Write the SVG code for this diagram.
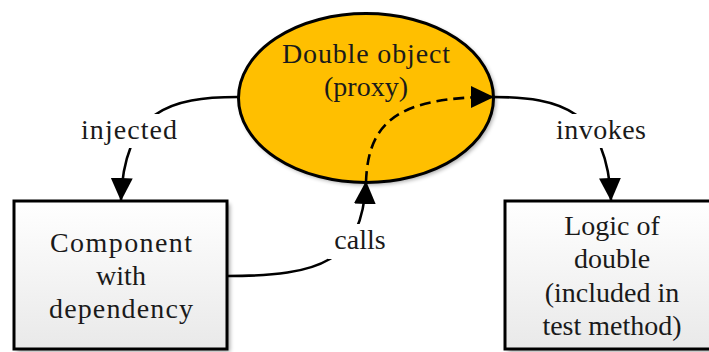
<svg xmlns="http://www.w3.org/2000/svg" width="709" height="352" viewBox="0 0 709 352" font-family="Liberation Serif, Times New Roman, serif">
  <style>
    text { font-size: 28px; fill: #1a1a1a; text-anchor: middle; }
    .box { fill: url(#boxFill); stroke: #000; stroke-width: 3; }
    .shadow { fill: #000; opacity: 0.35; filter: url(#soft); }
    .edge { fill: none; stroke: #000; stroke-width: 2.6; }
    .dashed { stroke-dasharray: 11 6; }
    .lbl-bg { fill: #fff; }
  </style>
  <defs>
    <linearGradient id="boxFill" x1="0" y1="0" x2="0" y2="1">
      <stop offset="0" stop-color="#ffffff"/>
      <stop offset="1" stop-color="#e9e9e9"/>
    </linearGradient>
    <filter id="soft" x="-10%" y="-10%" width="120%" height="120%">
      <feGaussianBlur stdDeviation="2"/>
    </filter>
    <marker id="head" viewBox="0 0 23 22" refX="22" refY="11" markerWidth="23" markerHeight="22" orient="auto" markerUnits="userSpaceOnUse">
      <path d="M0,0 L23,11 L0,22 z" fill="#000"/>
    </marker>
  </defs>

  <rect width="709" height="352" fill="#fff"/>

  <!-- proxy object -->
  <g id="proxy">
    <ellipse class="shadow" cx="368" cy="100" rx="128" ry="85"/>
    <ellipse cx="366" cy="98" rx="127.5" ry="84.5" fill="#ffbf00" stroke="#000" stroke-width="3"/>
    <text x="366" y="63" textLength="168">Double object</text>
    <text x="366" y="96">(proxy)</text>
  </g>

  <!-- component under test -->
  <g id="component">
    <rect class="shadow" x="17" y="204" width="213" height="148"/>
    <rect class="box" x="14" y="201" width="213" height="148"/>
    <text x="121" y="252" textLength="142">Component</text>
    <text x="121" y="285">with</text>
    <text x="121" y="318" textLength="144">dependency</text>
  </g>

  <!-- logic of the double -->
  <g id="logic">
    <rect class="shadow" x="508" y="204" width="214" height="148"/>
    <rect class="box" x="505" y="201" width="214" height="148"/>
    <text x="612" y="235">Logic of</text>
    <text x="612" y="268">double</text>
    <text x="612" y="302">(included in</text>
    <text x="612" y="335">test method)</text>
  </g>

  <!-- connectors -->
  <g id="connectors">
    <path class="edge" d="M238,97 C170,97 124,110 121,200" marker-end="url(#head)"/>
    <path class="edge" d="M493,97 C561,97 607,110 611,200" marker-end="url(#head)"/>
    <path class="edge" d="M227,276 C320,276 362,262 366,182" marker-end="url(#head)"/>
    <path class="edge dashed" d="M366,182 C368,122 398,97 493,97" marker-end="url(#head)"/>

    <rect class="lbl-bg" x="76" y="114" width="106" height="34"/>
    <text x="129" y="139" textLength="96">injected</text>
    <rect class="lbl-bg" x="550" y="114" width="102" height="34"/>
    <text x="601" y="139" textLength="90">invokes</text>
    <rect class="lbl-bg" x="328" y="224" width="64" height="35"/>
    <text x="360" y="249">calls</text>
  </g>
</svg>
